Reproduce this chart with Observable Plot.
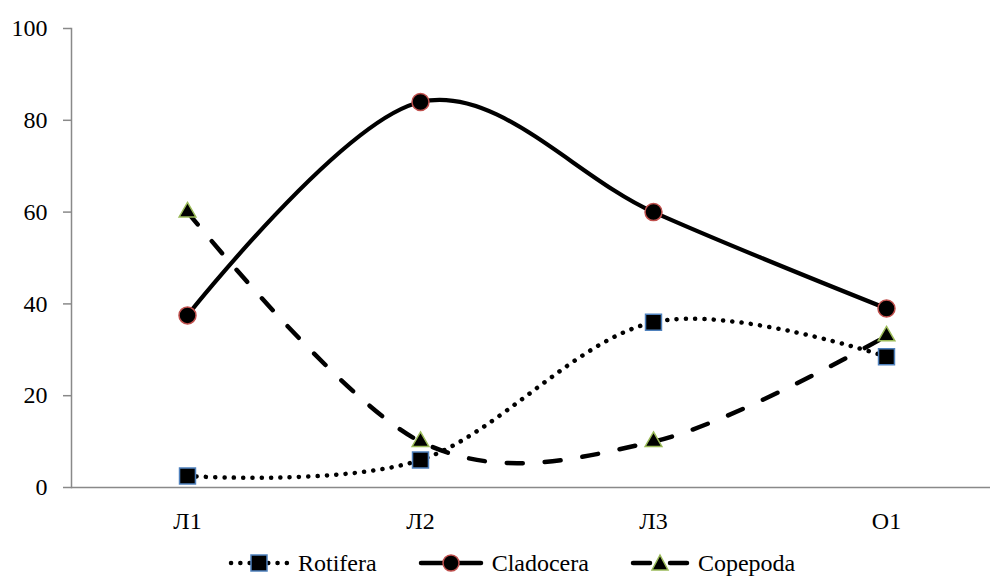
<!DOCTYPE html>
<html>
<head>
<meta charset="utf-8">
<script src="https://cdn.jsdelivr.net/npm/d3@7"></script>
<script src="https://cdn.jsdelivr.net/npm/@observablehq/plot@0.6"></script>
<style>
  html, body { margin: 0; padding: 0; background: #fff; }
  #chart { width: 990px; font-family: "Liberation Serif", "Times New Roman", serif; }
  .legend { display: flex; align-items: center; height: 46px; padding-left: 228px; font-size: 24px; color: #000; }
  .legend .item { display: flex; align-items: center; margin-right: 41px; }
  .legend svg { margin-right: 8px; }
</style>
</head>
<body>
<div id="chart"></div>
<script>
// Sampling sites and the share (%) of each zooplankton group
const sites = ["Л1", "Л2", "Л3", "О1"];
const rotifera = [2.5, 6, 36, 28.5];
const cladocera = [37.5, 84, 60, 39];
const copepoda = [60, 10, 10, 33];
const yTicks = [0, 20, 40, 60, 80, 100];

const seriesNames = ["Rotifera", "Cladocera", "Copepoda"];
const seriesValues = [rotifera, cladocera, copepoda];

const rows = seriesNames.flatMap((name, k) =>
  sites.map((site, i) => ({series: name, site, value: seriesValues[k][i]}))
);
const of = (name) => rows.filter((d) => d.series === name);

const axisGrey = "#898989";

const plot = Plot.plot({
  width: 990,
  height: 540,
  marginLeft: 71,
  marginRight: 0,
  marginTop: 28,
  marginBottom: 53,
  style: {fontFamily: "'Liberation Serif', 'Times New Roman', serif", fontSize: "24px", color: "#000", background: "#fff"},
  x: {type: "point", domain: sites, range: [187, 886], padding: 0},
  y: {domain: [0, 100]},
  marks: [
    Plot.frame({anchor: "left", stroke: axisGrey, strokeWidth: 1.5}),
    Plot.ruleY([0], {stroke: axisGrey, strokeWidth: 1.5}),
    Plot.axisY({ticks: yTicks, tickSize: 8, tickPadding: 16, stroke: axisGrey, strokeWidth: 1.5, fill: "#000", label: null}),
    Plot.axisX({tickSize: 0, tickPadding: 24, fill: "#000", label: null}),

    // Rotifera: dotted
    Plot.line(of("Rotifera"), {x: "site", y: "value", curve: "cardinal", tension: 0,
      stroke: "#000", strokeWidth: 4.5, strokeLinecap: "round", strokeDasharray: "0.1 9.2"}),
    Plot.dot(of("Rotifera"), {x: "site", y: "value", symbol: "square", r: 9,
      fill: "#000", stroke: "#4F81BD", strokeWidth: 1.5}),

    // Cladocera: solid
    Plot.line(of("Cladocera"), {x: "site", y: "value", curve: "cardinal", tension: 0,
      stroke: "#000", strokeWidth: 4.2}),
    Plot.dot(of("Cladocera"), {x: "site", y: "value", symbol: "circle", r: 8.5,
      fill: "#000", stroke: "#C0504D", strokeWidth: 1.5}),

    // Copepoda: dashed
    Plot.line(of("Copepoda"), {x: "site", y: "value", curve: "cardinal", tension: 0,
      stroke: "#000", strokeWidth: 4.5, strokeLinecap: "round", strokeDasharray: "16 22"}),
    Plot.dot(of("Copepoda"), {x: "site", y: "value", symbol: "triangle", r: 6.2,
      fill: "#000", stroke: "#9BBB59", strokeWidth: 1.5})
  ]
});

const chart = document.getElementById("chart");
chart.appendChild(plot);

// Legend below the chart
const swatches = {
  Rotifera: `<svg width="62" height="20" viewBox="0 0 62 20">
      <line x1="3" y1="10" x2="59" y2="10" stroke="#000" stroke-width="4.5" stroke-linecap="round" stroke-dasharray="0.1 9.2"/>
      <rect x="23" y="2" width="16" height="16" fill="#000" stroke="#4F81BD" stroke-width="1.5"/></svg>`,
  Cladocera: `<svg width="66" height="20" viewBox="0 0 66 20">
      <line x1="3" y1="10" x2="63" y2="10" stroke="#000" stroke-width="4.5" stroke-linecap="round"/>
      <circle cx="33" cy="10" r="8" fill="#000" stroke="#C0504D" stroke-width="1.5"/></svg>`,
  Copepoda: `<svg width="60" height="20" viewBox="0 0 60 20">
      <line x1="3" y1="10" x2="20" y2="10" stroke="#000" stroke-width="4.5" stroke-linecap="round"/>
      <line x1="40" y1="10" x2="57" y2="10" stroke="#000" stroke-width="4.5" stroke-linecap="round"/>
      <path d="M30,2 L38,17 L22,17 Z" fill="#000" stroke="#9BBB59" stroke-width="1.5"/></svg>`
};
const legend = document.createElement("div");
legend.className = "legend";
legend.innerHTML = seriesNames.map((name) =>
  `<div class="item">${swatches[name]}<span>${name}</span></div>`).join("");
chart.appendChild(legend);
</script>
</body>
</html>
